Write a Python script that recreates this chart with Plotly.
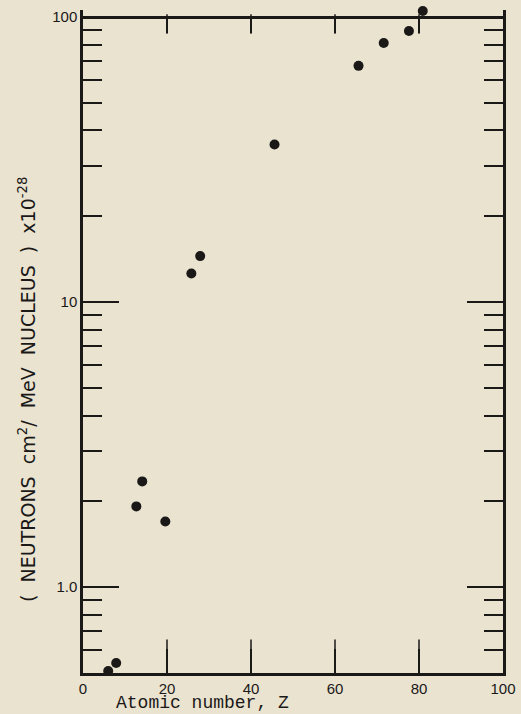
import math
import plotly.graph_objects as go

# Data
atomic_number = [6.0, 7.9, 12.7, 14.1, 19.6, 25.8, 27.9, 45.6, 65.6, 71.6, 77.6, 80.9]
yield_values = [0.508, 0.542, 1.92, 2.35, 1.70, 12.6, 14.5, 35.7, 67.4, 81.1, 89.3, 105.0]

x_ticks = [0, 20, 40, 60, 80, 100]
x_inner_ticks = [20, 40, 60, 80]
y_major = [1, 10, 100]
y_major_text = ["1.0", "10", "100"]
y_minor = [m * d for d in (0.1, 1, 10) for m in range(2, 10)]
y_minor = [v for v in y_minor if 0.5 <= v <= 100 and v not in (1, 10, 100)]

BG = "#e9e3d0"
INK = "#1b1818"

W, H = 521, 714
L, R, B = 83, 18, 41
FRAME_TOP = 17          # pixel row of the "100" frame line
EXTRA = 7               # room above the frame so the point beyond 100 stays in range
T = FRAME_TOP - EXTRA
plot_h = H - T - B
frame_h = H - FRAME_TOP - B
y_lo, y_frame = math.log10(0.5), 2.0
px_per_dec = frame_h / (y_frame - y_lo)
y_hi = y_frame + EXTRA / px_per_dec
frame_top_pos = frame_h / plot_h

BOTTOM_TICK_LEN = 24
TOP_TICK_LEN = 14

fig = go.Figure()
fig.add_trace(go.Scatter(
    x=atomic_number, y=yield_values, mode="markers",
    marker=dict(size=10, color=INK),
    cliponaxis=False, showlegend=False, hoverinfo="x+y",
))
# bottom inward ticks: vertical line symbols centred on the axis, clipped to the plot area
fig.add_trace(go.Scatter(
    x=x_inner_ticks, y=[10 ** y_lo] * len(x_inner_ticks), mode="markers",
    marker=dict(symbol="line-ns", size=2 * BOTTOM_TICK_LEN, color=INK,
                line=dict(width=1.5, color=INK)),
    cliponaxis=True, showlegend=False, hoverinfo="skip",
))
# top inward ticks hanging from the frame line at 100
fig.add_trace(go.Scatter(
    x=x_inner_ticks,
    y=[10 ** (y_frame - (TOP_TICK_LEN / 2) / px_per_dec)] * len(x_inner_ticks),
    mode="markers",
    marker=dict(symbol="line-ns", size=TOP_TICK_LEN, color=INK,
                line=dict(width=1.5, color=INK)),
    cliponaxis=True, showlegend=False, hoverinfo="skip",
))
# invisible helper trace so the top frame axis is drawn
fig.add_trace(go.Scatter(x=atomic_number, y=yield_values, mode="markers", xaxis="x3",
                         marker=dict(size=1, opacity=0), showlegend=False, hoverinfo="skip"))

fig.update_layout(
    width=W, height=H,
    margin=dict(l=L, r=R, t=T, b=B, autoexpand=False),
    paper_bgcolor=BG, plot_bgcolor=BG,
    font=dict(family="Liberation Sans, Arial, sans-serif", color=INK),
    xaxis=dict(
        range=[0, 100], tickvals=x_ticks, ticktext=[str(v) for v in x_ticks],
        ticks="inside", ticklen=BOTTOM_TICK_LEN, tickwidth=1.5, tickcolor=INK,
        showline=True, linewidth=2.5, linecolor=INK, mirror=False,
        showgrid=False, zeroline=False, automargin=False,
        tickfont=dict(size=15, family="Liberation Sans, Arial, sans-serif"),
    ),
    xaxis3=dict(
        overlaying="x", side="top", matches="x", range=[0, 100],
        anchor="free", position=frame_top_pos,
        tickvals=x_inner_ticks, ticks="inside", ticklen=TOP_TICK_LEN, tickwidth=1.5,
        tickcolor=INK, showticklabels=False, showgrid=False, zeroline=False,
        showline=True, linewidth=2.5, linecolor=INK, automargin=False,
    ),
    yaxis=dict(
        type="log", range=[y_lo, y_hi],
        tickvals=y_major, ticktext=y_major_text,
        ticks="inside", ticklen=36, tickwidth=1.5, tickcolor=INK,
        showline=True, linewidth=2.5, linecolor=INK, mirror="ticks",
        showgrid=False, zeroline=False, automargin=False,
        tickfont=dict(size=15, family="Liberation Sans, Arial, sans-serif"),
        minor=dict(tickvals=y_minor, ticks="inside", ticklen=19,
                   tickwidth=1.5, tickcolor=INK, showgrid=False),
    ),
    annotations=[
        dict(text="Atomic number, Z", xref="paper", yref="paper",
             x=(202 - L) / (W - L - R), y=-(703 - (H - B)) / plot_h,
             xanchor="center", yanchor="middle", showarrow=False,
             font=dict(family="Liberation Mono, Courier New, monospace", size=18, color=INK)),
        dict(text="(  NEUTRONS  cm<sup>2</sup>/  MeV  NUCLEUS  )  x10<sup>-28</sup>",
             xref="paper", yref="paper",
             x=-(L - 27) / (W - L - R), y=((H - B) - 390) / plot_h,
             xanchor="center", yanchor="middle", textangle=-90, showarrow=False,
             font=dict(family="DejaVu Sans, Verdana, sans-serif", size=19, color=INK)),
    ],
)

fig.write_html(
    "out.html",
    config={"displayModeBar": False},
    post_script="document.body.style.margin='0';document.body.style.background='%s';" % BG,
)
